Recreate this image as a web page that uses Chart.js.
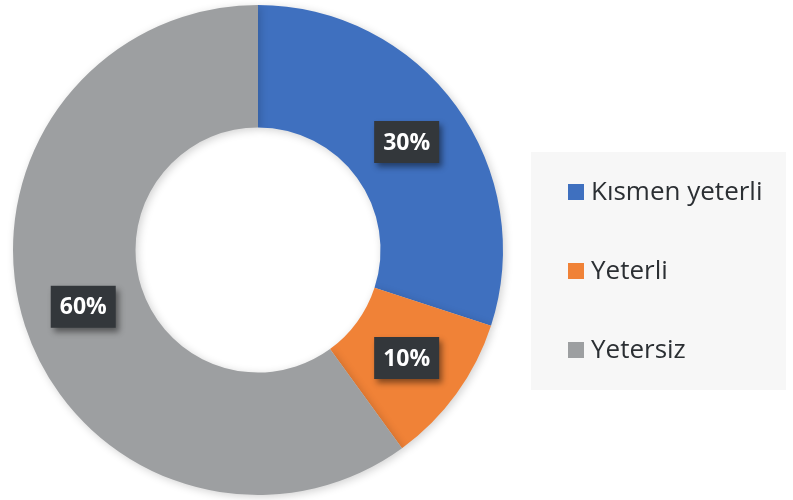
<!DOCTYPE html>
<html>
<head>
<meta charset="utf-8">
<script src="https://cdn.jsdelivr.net/npm/chart.js@4"></script>
<style>
  html, body { margin: 0; padding: 0; background: #ffffff; }
  #wrap { width: 793px; height: 500px; }
</style>
</head>
<body>
<div id="wrap"><canvas id="donut" width="793" height="500"></canvas></div>
<script>
var categories = ['Kısmen yeterli', 'Yeterli', 'Yetersiz'];
var values     = [30, 10, 60];
var colors     = ['#3f70bf', '#f08237', '#9d9fa1'];

// shadow behind the ring
var ringShadow = {
    id: 'ringShadow',
    beforeDatasetsDraw: function(chart) {
        var ctx = chart.ctx;
        ctx.save();
        ctx.shadowColor = 'rgba(0,0,0,0.18)';
        ctx.shadowBlur = 8;
        ctx.shadowOffsetX = 2;
        ctx.shadowOffsetY = 2;
    },
    afterDatasetsDraw: function(chart) {
        chart.ctx.restore();
    }
};

// dark boxed percentage labels
var boxLabels = {
    id: 'boxLabels',
    afterDatasetsDraw: function(chart) {
        var ctx = chart.ctx;
        var meta = chart.getDatasetMeta(0);
        var total = values.reduce(function(a, b){ return a + b; }, 0);
        meta.data.forEach(function(arc, i) {
            var p = arc.tooltipPosition();
            var txt = Math.round(values[i] / total * 100) + '%';
            var w = 65, h = 42;
            ctx.save();
            ctx.shadowColor = 'rgba(0,0,0,0.45)';
            ctx.shadowBlur = 6;
            ctx.shadowOffsetX = 3;
            ctx.shadowOffsetY = 4;
            ctx.fillStyle = '#33373b';
            ctx.fillRect(p.x - w / 2, p.y - h / 2, w, h);
            ctx.restore();
            ctx.save();
            ctx.fillStyle = '#ffffff';
            ctx.font = 'bold 23px "Open Sans", "DejaVu Sans", sans-serif';
            ctx.textAlign = 'center';
            ctx.textBaseline = 'middle';
            ctx.fillText(txt, p.x, p.y + 1);
            ctx.restore();
        });
    }
};

// legend panel on the right
var sideLegend = {
    id: 'sideLegend',
    afterDraw: function(chart) {
        var ctx = chart.ctx;
        ctx.save();
        ctx.fillStyle = '#f7f7f7';
        ctx.fillRect(531, 152, 255, 238);
        var ys = [192, 271, 350];
        categories.forEach(function(name, i) {
            ctx.fillStyle = colors[i];
            ctx.fillRect(568, ys[i] - 8, 16, 16);
            ctx.fillStyle = '#2b2f33';
            ctx.font = '26px "Open Sans", "DejaVu Sans", sans-serif';
            ctx.textAlign = 'left';
            ctx.textBaseline = 'middle';
            ctx.fillText(name, 591, ys[i] + 1);
        });
        ctx.restore();
    }
};

var ctx = document.getElementById('donut').getContext('2d');
var chart = new Chart(ctx, {
    type: 'doughnut',
    data: {
        labels: categories,
        datasets: [{
            data: values,
            backgroundColor: colors,
            borderWidth: 0
        }]
    },
    options: {
        responsive: false,
        animation: false,
        cutout: '50%',
        layout: { padding: { left: 13, top: 5, right: 290, bottom: 5 } },
        plugins: {
            legend: { display: false },
            tooltip: { enabled: false }
        }
    },
    plugins: [ringShadow, boxLabels, sideLegend]
});
</script>
</body>
</html>
